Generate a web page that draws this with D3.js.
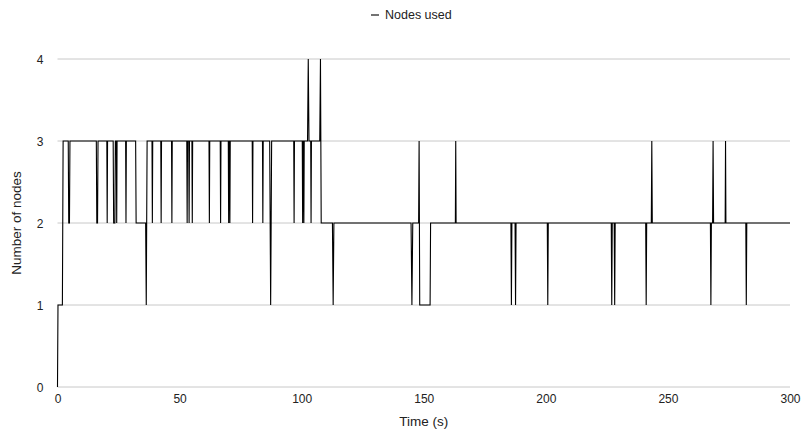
<!DOCTYPE html>
<html>
<head>
<meta charset="utf-8">
<script src="https://cdn.jsdelivr.net/npm/d3@7"></script>
<style>
  body { margin: 0; background: #fff; }
  svg text { font-family: "Liberation Sans", Arial, Helvetica, sans-serif; fill: #222; }
</style>
</head>
<body>
<svg id="chart" width="803" height="434"></svg>
<script>
// [time (s), nodes used]
const nodesUsed = [
  [0,0],[0.2,1],[2.0,1],[2.3,3],
  [4.4,3],[4.6,2],[4.9,2],[5.1,3],
  [15.9,3],[16.1,2],[16.4,2],[16.6,3],
  [20.2,3],[20.35,2],[20.5,3],
  [22.8,3],[23.0,2],[23.5,2],[23.7,3],
  [24.1,3],[24.25,2],[24.4,3],
  [27.9,3],[28.05,2],[28.2,3],
  [32.0,3],[32.2,2],[36.1,2],[36.35,1],[36.7,3],
  [38.7,3],[38.85,2],[39.0,3],
  [42.3,3],[42.45,2],[42.6,3],
  [46.7,3],[46.85,2],[47.0,3],
  [52.95,3],[53.1,2],[53.25,3],
  [53.75,3],[53.9,2],[54.05,3],
  [55.05,3],[55.2,2],[55.35,3],
  [62.05,3],[62.2,2],[62.35,3],
  [66.65,3],[66.8,2],[66.95,3],
  [69.95,3],[70.1,2],[70.25,3],
  [70.45,3],[70.6,2],[70.75,3],
  [79.75,3],[79.9,2],[80.05,3],
  [83.95,3],[84.1,2],[84.25,3],
  [86.9,3],[87.3,1],[87.7,3],
  [96.75,3],[96.9,2],[97.05,3],
  [100.25,3],[100.4,2],[100.55,3],
  [100.75,3],[100.9,2],[101.05,3],
  [102.4,3],[102.7,4],[103.0,3],
  [103.7,3],[103.85,2],[104.0,3],
  [107.4,3],[107.7,4],[108.0,2],
  [112.6,2],[112.9,1],[113.2,2],
  [144.8,2],[145.15,1],[145.5,2],
  [147.9,2],[148.1,3],[148.35,1],[152.6,1],[152.8,2],
  [162.95,2],[163.1,3],[163.25,2],
  [185.7,2],[185.9,1],[186.1,2],
  [187.4,2],[187.6,1],[187.8,2],
  [200.6,2],[200.8,1],[201.0,2],
  [226.8,2],[227.0,1],[227.2,2],
  [228.0,2],[228.2,1],[228.4,2],
  [240.9,2],[241.1,1],[241.3,2],
  [243.2,2],[243.4,3],[243.6,2],
  [267.4,2],[267.6,1],[267.8,2],
  [268.3,2],[268.5,3],[268.7,2],
  [273.45,2],[273.6,3],[273.75,2],
  [281.9,2],[282.1,1],[282.3,2],
  [300,2]
];
const xTicks = [0, 50, 100, 150, 200, 250, 300];
const yTicks = [0, 1, 2, 3, 4];
const seriesName = "Nodes used";
const xTitle = "Time (s)";
const yTitle = "Number of nodes";

const svg = d3.select("#chart");
const mLeft = 57.5, mRight = 790, mTop = 59, mBottom = 387;

const x = d3.scaleLinear().domain([0, 300]).range([mLeft, mRight]);
const y = d3.scaleLinear().domain([0, 4]).range([mBottom, mTop]);

// gridlines
svg.append("g")
  .selectAll("line").data(yTicks).join("line")
  .attr("x1", mLeft).attr("x2", mRight)
  .attr("y1", d => y(d)).attr("y2", d => y(d))
  .attr("stroke", "#c8c8c8").attr("stroke-width", 1);

// y axis labels
const yAxis = d3.axisLeft(y).tickValues(yTicks).tickSize(0).tickPadding(0).tickFormat(d3.format("d"));
const gy = svg.append("g").attr("transform", `translate(${mLeft - 14},0)`).call(yAxis);
gy.select(".domain").remove();
gy.selectAll("text").attr("dy", "0.35em").style("font-size", "12px")
  .style("font-family", "Liberation Sans, Arial, sans-serif").attr("fill", "#222");

// x axis labels
const xAxis = d3.axisBottom(x).tickValues(xTicks).tickSize(0).tickPadding(0).tickFormat(d3.format("d"));
const gx = svg.append("g").attr("transform", `translate(0,${mBottom + 7})`).call(xAxis);
gx.select(".domain").remove();
gx.selectAll("text").attr("dy", "0.71em").style("font-size", "12px")
  .style("font-family", "Liberation Sans, Arial, sans-serif").attr("fill", "#222");

// line
const line = d3.line().x(d => x(d[0])).y(d => y(d[1]));
svg.append("path")
  .datum(nodesUsed)
  .attr("d", line)
  .attr("fill", "none")
  .attr("stroke", "#000")
  .attr("stroke-width", 1.1)
  .attr("stroke-linejoin", "miter");

// axis titles
svg.append("text")
  .attr("x", (mLeft + mRight) / 2).attr("y", 426)
  .attr("text-anchor", "middle")
  .style("font-size", "13.5px")
  .text(xTitle);
svg.append("text")
  .attr("transform", `translate(21,${(mTop + mBottom) / 2}) rotate(-90)`)
  .attr("text-anchor", "middle")
  .style("font-size", "13.5px")
  .text(yTitle);

// legend
const lg = svg.append("g").attr("transform", "translate(371,15)");
lg.append("line").attr("x1", 0).attr("x2", 8).attr("y1", 0).attr("y2", 0)
  .attr("stroke", "#000").attr("stroke-width", 1.1);
lg.append("text").attr("x", 14).attr("y", 0).attr("dy", "0.35em")
  .style("font-size", "12.5px").text(seriesName);
</script>
</body>
</html>
